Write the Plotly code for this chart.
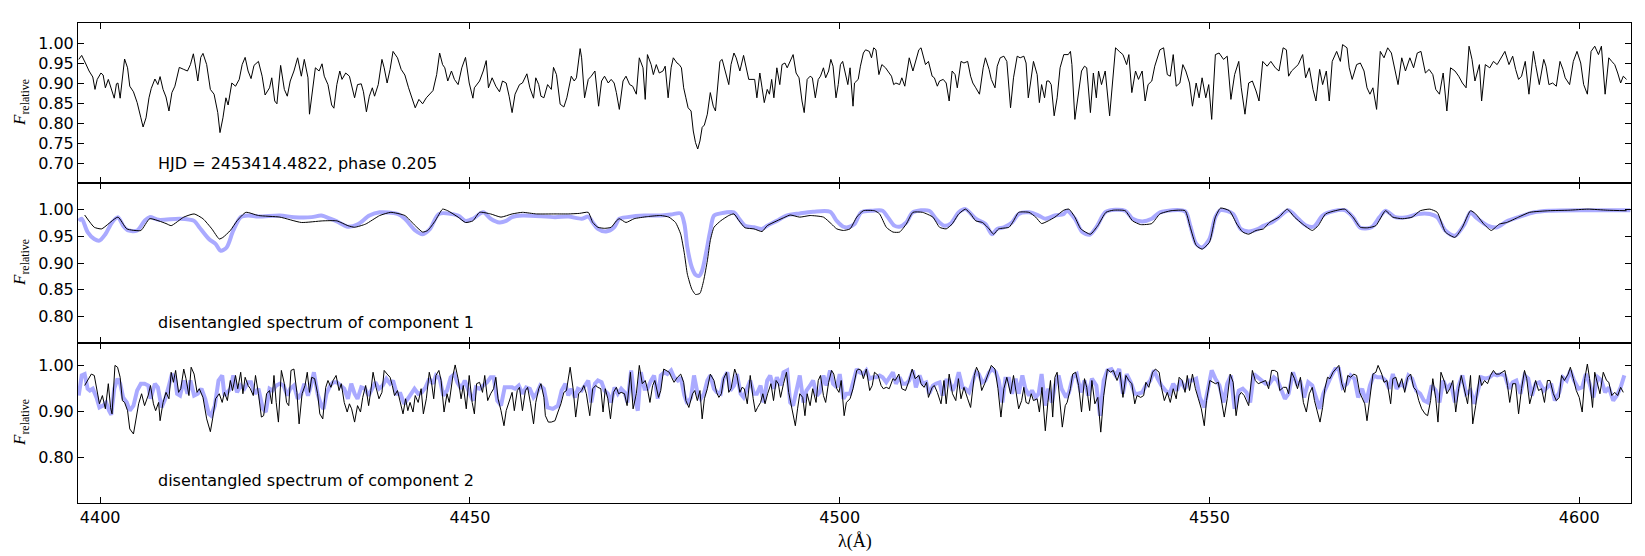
import plotly.graph_objects as go
from plotly.subplots import make_subplots

# ---------------- data (wavelength in Angstrom, relative flux) ----------------
obs = [(4397.1,0.959),(4397.5,0.969),(4398.0,0.950),(4398.5,0.930),(4399.0,0.915),(4399.3,0.884),(4399.6,0.909),(4400.1,0.925),(4400.4,0.920),(4400.7,0.888),(4401.1,0.909),(4401.5,0.884),(4401.9,0.862),(4402.2,0.898),(4402.4,0.900),(4402.7,0.862),(4403.1,0.930),(4403.3,0.960),(4403.7,0.938),(4404.0,0.892),(4404.5,0.878),(4405.0,0.851),(4405.5,0.813),(4405.8,0.790),(4406.2,0.813),(4406.6,0.863),(4406.9,0.886),(4407.4,0.910),(4407.8,0.896),(4408.1,0.916),(4408.5,0.884),(4408.9,0.865),(4409.3,0.830),(4409.7,0.876),(4410.1,0.892),(4410.4,0.913),(4410.7,0.939),(4411.3,0.934),(4411.8,0.930),(4412.2,0.946),(4412.6,0.973),(4413.0,0.930),(4413.2,0.905),(4413.6,0.964),(4413.9,0.974),(4414.4,0.946),(4414.9,0.884),(4415.4,0.872),(4415.9,0.826),(4416.2,0.776),(4416.6,0.813),(4417.0,0.863),(4417.3,0.845),(4417.8,0.900),(4418.3,0.892),(4418.8,0.909),(4419.2,0.946),(4419.6,0.964),(4420.0,0.930),(4420.4,0.911),(4420.8,0.944),(4421.4,0.954),(4421.9,0.917),(4422.3,0.870),(4422.9,0.888),(4423.2,0.913),(4423.6,0.855),(4423.9,0.848),(4424.4,0.944),(4424.9,0.884),(4425.3,0.867),(4425.7,0.905),(4426.2,0.930),(4426.7,0.963),(4427.2,0.917),(4427.6,0.959),(4428.1,0.913),(4428.3,0.822),(4428.7,0.888),(4429.1,0.938),(4429.6,0.930),(4430.0,0.948),(4430.3,0.917),(4430.8,0.896),(4431.3,0.845),(4431.6,0.837),(4432.0,0.896),(4432.4,0.930),(4432.7,0.909),(4433.2,0.925),(4433.7,0.917),(4434.1,0.888),(4434.4,0.863),(4434.8,0.896),(4435.3,0.898),(4435.6,0.878),(4436.0,0.828),(4436.4,0.867),(4436.8,0.888),(4437.1,0.867),(4437.6,0.896),(4438.1,0.959),(4438.4,0.938),(4438.8,0.900),(4439.2,0.934),(4439.6,0.979),(4440.2,0.963),(4440.7,0.934),(4441.2,0.920),(4441.7,0.888),(4442.2,0.863),(4442.6,0.838),(4443.1,0.859),(4443.6,0.848),(4444.1,0.863),(4444.6,0.873),(4445.0,0.881),(4445.5,0.921),(4445.9,0.975),(4446.3,0.946),(4446.6,0.938),(4447.0,0.905),(4447.5,0.930),(4447.9,0.909),(4448.4,0.896),(4448.9,0.938),(4449.4,0.964),(4449.9,0.900),(4450.4,0.862),(4450.6,0.888),(4450.9,0.896),(4451.3,0.905),(4451.8,0.930),(4452.2,0.956),(4452.5,0.888),(4453.0,0.913),(4453.5,0.892),(4454.0,0.878),(4454.4,0.905),(4454.9,0.900),(4455.3,0.867),(4455.7,0.826),(4456.1,0.872),(4456.7,0.896),(4457.1,0.900),(4457.7,0.923),(4458.1,0.888),(4458.6,0.862),(4458.9,0.913),(4459.3,0.896),(4459.6,0.867),(4460.0,0.863),(4460.5,0.896),(4461.0,0.884),(4461.3,0.939),(4461.7,0.921),(4462.2,0.847),(4462.7,0.840),(4463.1,0.863),
(4463.4,0.888),(4463.7,0.917),(4464.1,0.905),(4464.4,0.913),(4464.9,0.986),(4465.1,0.963),(4465.5,0.863),(4466.0,0.909),(4466.4,0.917),(4466.9,0.930),(4467.4,0.842),(4467.8,0.905),(4468.2,0.917),(4468.7,0.900),(4469.1,0.909),(4469.5,0.900),(4469.8,0.876),(4470.2,0.834),(4470.7,0.905),(4471.1,0.917),(4471.6,0.896),(4472.0,0.892),(4472.5,0.872),(4472.9,0.963),(4473.4,0.938),(4473.7,0.859),(4474.0,0.971),(4474.5,0.946),(4474.8,0.921),(4475.2,0.946),(4475.6,0.925),(4476.1,0.930),(4476.4,0.942),(4476.8,0.863),(4477.2,0.938),(4477.5,0.963),(4478.0,0.950),(4478.3,0.946),(4478.6,0.938),(4478.9,0.888),(4479.2,0.863),(4479.5,0.838),(4479.9,0.830),(4480.2,0.780),(4480.5,0.751),(4480.8,0.735),(4481.1,0.755),(4481.4,0.789),(4481.7,0.795),(4482.1,0.822),(4482.5,0.876),(4482.9,0.842),(4483.2,0.830),(4483.5,0.884),(4483.8,0.954),(4484.1,0.959),(4484.6,0.925),(4485.0,0.896),(4485.3,0.946),(4485.7,0.975),(4486.0,0.963),(4486.5,0.930),(4487.0,0.969),(4487.4,0.938),(4487.7,0.909),(4488.0,0.909),(4488.5,0.909),(4488.8,0.863),(4489.2,0.925),(4489.5,0.888),(4489.8,0.851),(4490.2,0.884),(4490.5,0.872),(4490.8,0.909),(4491.1,0.863),(4491.5,0.938),(4491.9,0.896),(4492.2,0.946),(4492.6,0.950),(4492.9,0.938),(4493.3,0.954),(4493.7,0.971),(4494.1,0.925),(4494.5,0.913),(4494.9,0.855),(4495.2,0.826),(4495.6,0.909),(4496.0,0.917),(4496.3,0.913),(4496.7,0.863),(4497.1,0.909),(4497.4,0.917),(4497.8,0.938),(4498.1,0.913),(4498.5,0.930),(4498.8,0.959),(4499.1,0.942),(4499.5,0.863),(4499.8,0.896),(4500.1,0.946),(4500.4,0.954),(4500.7,0.925),(4501.1,0.896),(4501.4,0.938),(4501.8,0.842),(4502.0,0.900),(4502.5,0.909),(4502.8,0.942),(4503.2,0.975),(4503.5,0.983),(4504.0,0.979),(4504.3,0.963),(4504.6,0.988),(4504.9,0.983),(4505.3,0.921),(4505.7,0.946),(4506.2,0.938),(4506.5,0.930),(4507.0,0.917),(4507.3,0.896),(4507.6,0.900),(4508.1,0.896),(4508.4,0.913),(4508.8,0.892),(4509.1,0.934),(4509.4,0.963),(4509.9,0.930),(4510.2,0.950),(4510.7,0.983),(4511.0,0.988),(4511.3,0.967),(4511.6,0.946),(4512.0,0.954),(4512.5,0.917),(4512.8,0.913),(4513.2,0.892),(4513.5,0.905),(4514.0,0.909),(4514.4,0.900),(4514.8,0.855),(4515.2,0.930),(4515.6,0.921),(4515.9,0.888),(4516.4,0.954),(4516.8,0.950),(4517.3,0.954),(4517.7,0.917),(4518.0,0.900),(4518.4,0.888),(4518.9,0.872),(4519.4,0.938),(4519.7,0.963),(4520.2,0.934),(4520.5,0.909),(4521.0,0.888),(4521.3,0.942),(4521.7,0.963),(4522.2,0.967),(4522.6,0.954),(4523.1,0.838),(4523.5,0.913),(4524.0,0.967),(4524.4,0.963),(4524.9,0.967),(4525.2,0.950),(4525.5,0.863),(4525.8,0.900),(4526.2,0.954),(4526.7,0.921),(4527.0,0.851),(4527.3,0.896),(4527.7,0.863),(4528.0,0.905),(4528.3,0.905),(4528.6,0.896),(4529.0,0.818),(4529.4,0.863),(4529.8,0.938),(4530.3,0.971),
(4530.9,0.971),(4531.2,0.979),(4531.4,0.946),(4531.8,0.809),(4532.3,0.880),(4532.7,0.930),(4533.1,0.942),(4533.4,0.938),(4533.9,0.826),(4534.3,0.925),(4534.7,0.863),(4535.0,0.930),(4535.4,0.896),(4535.9,0.930),(4536.5,0.818),(4536.9,0.896),(4537.3,0.988),(4537.8,0.979),(4538.3,0.971),(4538.8,0.946),(4539.1,0.971),(4539.5,0.876),(4540.0,0.930),(4540.4,0.909),(4540.9,0.930),(4541.3,0.855),(4541.7,0.896),(4542.2,0.905),(4542.6,0.942),(4543.3,0.983),(4543.8,0.988),(4544.3,0.921),(4544.7,0.917),(4545.1,0.971),(4545.5,0.892),(4546.0,0.900),(4546.4,0.946),(4546.8,0.930),(4547.3,0.900),(4547.7,0.842),(4548.2,0.900),(4548.6,0.863),(4549.0,0.913),(4549.5,0.863),(4549.9,0.896),(4550.3,0.809),(4550.8,0.971),(4551.3,0.975),(4551.9,0.959),(4552.4,0.967),(4552.9,0.859),(4553.4,0.921),(4553.96,0.954),(4554.3,0.888),(4554.8,0.822),(4555.3,0.900),(4555.8,0.905),(4556.3,0.880),(4556.7,0.855),(4557.2,0.954),(4557.8,0.942),(4558.3,0.954),(4558.9,0.938),(4559.4,0.930),(4559.96,0.988),(4560.4,0.983),(4560.7,0.917),(4561.1,0.930),(4561.5,0.938),(4562.0,0.946),(4562.6,0.971),(4563.0,0.913),(4563.5,0.938),(4564.0,0.884),(4564.4,0.855),(4564.9,0.934),(4565.3,0.896),(4565.8,0.930),(4566.2,0.855),(4566.6,0.954),(4567.2,0.979),(4567.7,0.954),(4568.0,0.996),(4568.6,0.988),(4568.9,0.938),(4569.3,0.909),(4569.9,0.946),(4570.4,0.950),(4570.9,0.930),(4571.3,0.888),(4571.7,0.872),(4572.1,0.888),(4572.6,0.834),(4573.1,0.979),(4573.6,0.963),(4574.1,0.988),(4574.6,0.975),(4575.0,0.938),(4575.5,0.896),(4576.0,0.963),(4576.5,0.930),(4577.1,0.963),(4577.6,0.938),(4578.1,0.975),(4578.6,0.979),(4579.2,0.925),(4579.7,0.934),(4580.2,0.921),(4580.6,0.884),(4581.1,0.872),(4581.6,0.925),(4582.1,0.830),(4582.6,0.938),(4583.2,0.930),(4583.7,0.917),(4584.2,0.900),(4584.7,0.888),(4585.1,0.992),(4585.5,0.959),(4585.9,0.905),(4586.5,0.946),(4586.8,0.855),(4587.3,0.946),(4587.9,0.938),(4588.4,0.954),(4588.9,0.946),(4589.4,0.963),(4589.95,0.979),(4590.5,0.946),(4591.0,0.967),(4591.4,0.934),(4591.8,0.909),(4592.2,0.917),(4592.7,0.954),(4593.2,0.872),(4593.8,0.979),(4594.1,0.946),(4594.6,0.896),(4595.2,0.959),(4595.5,0.942),(4595.9,0.896),(4596.4,0.900),(4596.9,0.892),(4597.4,0.954),(4597.8,0.934),(4598.1,0.913),(4598.7,0.896),(4599.2,0.954),(4599.7,0.979),(4600.2,0.950),(4600.6,0.896),(4601.1,0.872),(4601.6,0.979),(4602.1,0.992),(4602.6,0.971),(4603.0,0.992),(4603.5,0.872),(4604.0,0.963),(4604.4,0.954),(4604.8,0.946),(4605.2,0.925),(4605.6,0.900),(4605.96,0.917),(4606.4,0.909)]

comp1 = [(4397.9,0.990),(4399.2,0.967),(4400.2,0.964),(4402.4,0.986),(4403.6,0.964),(4405.5,0.961),(4406.7,0.983),(4408.9,0.974),(4409.6,0.970),(4411.3,0.986),(4412.7,0.992),(4413.9,0.983),(4415.1,0.964),(4416.1,0.945),(4416.6,0.948),(4417.6,0.961),(4418.5,0.979),(4419.7,0.995),(4421.4,0.989),(4424.3,0.986),(4427.2,0.976),(4430.1,0.979),(4432.0,0.979),(4433.5,0.970),(4434.4,0.967),(4435.9,0.973),(4437.8,0.989),(4439.3,0.995),(4441.2,0.989),(4442.6,0.970),(4443.6,0.958),(4444.3,0.961),(4445.3,0.979),(4446.3,1.001),(4447.0,0.998),(4448.4,0.986),(4449.4,0.976),(4450.4,0.979),(4451.3,0.995),(4452.8,0.992),(4454.2,0.986),(4455.7,0.992),(4457.1,0.995),(4459.0,0.992),(4461.5,0.992),
(4463.3,0.992),(4464.8,0.993),(4466.0,0.995),(4466.6,0.976),(4467.3,0.967),(4468.2,0.965),(4469.1,0.967),(4469.8,0.979),(4470.2,0.983),(4471.1,0.976),(4472.2,0.983),(4474.0,0.987),(4475.8,0.989),(4476.9,0.986),(4477.8,0.976),(4478.5,0.954),(4479.0,0.917),(4479.4,0.879),(4480.0,0.851),(4480.5,0.841),(4481.1,0.843),(4481.6,0.867),(4482.1,0.904),(4482.5,0.942),(4483.0,0.967),(4483.9,0.979),(4485.0,0.989),(4485.7,0.992),(4486.4,0.979),(4487.2,0.966),(4488.4,0.964),(4489.5,0.959),(4490.2,0.970),(4491.5,0.979),(4492.6,0.986),(4493.3,0.990),(4494.6,0.986),(4496.0,0.989),(4497.8,0.986),(4498.9,0.973),(4499.6,0.964),(4500.5,0.961),(4501.4,0.964),(4502.3,0.986),(4503.2,0.998),(4504.7,0.998),(4505.4,0.992),(4506.3,0.967),(4507.2,0.958),(4508.1,0.958),(4509.0,0.973),(4509.9,0.995),(4511.2,0.995),(4512.6,0.986),(4513.5,0.967),(4514.4,0.964),(4515.2,0.973),(4516.1,0.992),(4517.0,1.001),(4517.7,0.992),(4518.4,0.979),(4519.3,0.976),(4520.2,0.964),(4520.8,0.954),(4521.5,0.964),(4522.9,0.967),(4523.5,0.979),(4524.2,0.995),(4525.6,0.995),(4526.5,0.986),(4527.3,0.974),(4528.2,0.979),(4529.1,0.986),(4530.3,0.999),
(4531.0,1.001),(4531.8,0.986),(4532.6,0.964),(4533.9,0.954),(4534.9,0.970),(4536.0,0.995),(4537.0,0.999),(4538.6,0.998),(4539.6,0.979),(4540.7,0.972),(4542.2,0.974),(4543.3,0.992),(4544.8,0.998),(4546.7,0.998),(4547.4,0.967),(4548.2,0.933),(4549.0,0.926),(4550.0,0.939),(4550.8,0.986),(4551.5,1.003),(4552.7,0.998),(4553.7,0.973),(4554.5,0.958),(4555.3,0.954),(4556.3,0.961),(4557.3,0.964),(4558.1,0.976),(4559.4,0.986),(4560.5,1.001),(4561.5,0.986),(4562.6,0.973),(4563.9,0.961),(4564.7,0.970),(4565.7,0.992),(4567.0,0.998),(4568.3,1.001),(4569.4,0.986),(4570.4,0.967),(4571.4,0.966),(4572.5,0.970),(4573.8,0.998),(4574.8,0.986),(4576.1,0.983),(4577.4,0.986),(4578.5,0.998),(4579.8,1.001),(4580.8,0.995),(4581.9,0.958),(4583.2,0.948),(4584.2,0.967),(4585.3,0.998),(4586.0,0.992),(4587.1,0.973),(4588.1,0.961),(4589.2,0.973),(4590.2,0.976),(4591.8,0.986),(4593.3,0.995),(4595.9,0.998),(4598.6,0.999),(4601.2,1.001),(4603.8,0.999),(4606.4,0.998)]

comp1_model = [(4397.1,0.979),(4397.5,0.983),(4398.3,0.958),(4399.2,0.945),(4399.9,0.942),(4400.7,0.954),(4401.6,0.976),(4402.4,0.986),(4403.1,0.970),(4403.8,0.961),(4405.0,0.961),(4406.0,0.979),(4406.7,0.986),(4407.9,0.981),(4410.8,0.983),(4412.7,0.979),(4413.4,0.967),(4414.7,0.945),(4415.6,0.936),(4416.3,0.923),(4417.1,0.929),(4418.0,0.961),(4419.0,0.986),(4420.0,0.989),(4421.4,0.987),(4424.3,0.989),(4426.2,0.986),(4428.6,0.986),(4429.9,0.989),(4431.1,0.983),(4432.0,0.978),(4433.5,0.968),(4434.9,0.973),(4436.4,0.989),(4437.8,0.995),(4440.2,0.992),(4441.2,0.983),(4442.6,0.961),(4443.6,0.954),(4444.6,0.964),(4445.8,0.992),(4448.4,0.989),(4449.4,0.979),(4450.4,0.983),(4451.8,0.995),(4452.8,0.983),(4454.0,0.976),(4454.9,0.979),(4455.7,0.986),(4457.1,0.989),(4461.5,0.986),
(4463.3,0.987),(4465.1,0.983),(4466.0,0.987),(4466.6,0.976),(4467.3,0.964),(4468.4,0.959),(4469.5,0.967),(4470.2,0.983),(4471.3,0.986),(4473.6,0.989),(4475.8,0.989),(4477.2,0.991),(4478.5,0.993),(4479.0,0.973),(4479.4,0.929),(4480.0,0.892),(4480.5,0.878),(4481.0,0.876),(4481.4,0.886),(4481.9,0.917),(4482.5,0.961),(4483.0,0.989),(4483.9,0.993),(4485.7,0.995),(4486.4,0.983),(4487.2,0.970),(4488.4,0.967),(4489.5,0.964),(4490.2,0.970),(4491.5,0.979),(4492.8,0.989),(4494.6,0.993),(4496.4,0.996),(4498.7,0.996),(4499.6,0.979),(4500.5,0.968),(4501.1,0.967),(4502.0,0.973),(4502.9,0.995),(4504.5,0.998),(4505.8,0.998),(4506.5,0.986),(4507.4,0.970),(4508.1,0.968),(4509.0,0.976),(4509.9,0.995),(4512.1,0.998),(4513.0,0.983),(4514.1,0.970),(4515.0,0.974),(4516.1,0.995),(4517.0,1.001),(4518.4,0.983),(4519.7,0.973),(4520.6,0.954),(4521.3,0.964),(4522.2,0.967),(4523.3,0.976),(4524.2,0.992),(4525.6,0.995),(4526.9,0.989),(4527.8,0.983),(4529.1,0.989),(4530.3,0.992),
(4530.7,0.998),(4531.8,0.983),(4532.8,0.958),(4533.8,0.953),(4534.7,0.967),(4536.0,0.996),(4538.6,0.998),(4539.6,0.983),(4540.9,0.978),(4542.2,0.983),(4543.3,0.995),(4546.7,0.997),(4547.4,0.970),(4548.2,0.936),(4549.0,0.929),(4550.0,0.945),(4550.8,0.986),(4551.5,0.999),(4553.2,0.992),(4554.2,0.964),(4555.3,0.959),(4556.6,0.964),(4557.3,0.970),(4558.4,0.976),(4559.4,0.986),(4560.7,0.999),(4562.0,0.983),(4563.1,0.970),(4564.1,0.968),(4565.3,0.989),(4566.7,0.997),(4568.3,0.999),(4569.4,0.986),(4570.4,0.966),(4571.9,0.967),(4573.0,0.986),(4573.8,0.998),(4575.1,0.986),(4576.7,0.986),(4578.2,0.992),(4579.8,0.992),(4580.8,0.986),(4581.9,0.961),(4583.2,0.951),(4584.5,0.973),(4585.3,0.995),(4586.0,0.986),(4587.6,0.970),(4588.9,0.967),(4590.2,0.978),(4591.8,0.986),(4593.9,0.995),(4595.9,0.998),(4601.2,0.999),(4606.9,0.999)]

comp2 = [(4397.9,0.957),(4398.8,0.982),(4399.2,0.979),(4399.9,0.917),(4400.3,0.935),(4400.7,0.906),(4401.1,0.961),(4401.4,0.909),(4401.6,0.895),(4402.0,1.001),(4402.35,0.997),(4402.7,0.975),(4403.0,0.924),(4403.3,0.920),(4403.7,0.902),(4404.0,0.862),(4404.5,0.851),(4404.9,0.884),(4405.2,0.917),(4405.6,0.939),(4406.0,0.913),(4406.5,0.936),(4406.8,0.957),(4407.2,0.917),(4407.5,0.902),(4407.9,0.920),(4408.1,0.880),(4408.5,0.920),(4408.9,0.942),(4409.3,0.928),(4409.6,0.986),(4409.9,0.964),(4410.2,0.990),(4410.6,0.942),(4410.9,0.950),(4411.3,0.993),(4411.6,0.972),(4412.0,0.935),(4412.3,0.997),(4412.7,0.982),(4413.1,0.942),(4413.4,0.950),(4413.9,0.931),(4414.4,0.884),(4414.9,0.856),(4415.2,0.884),(4415.6,0.928),(4416.1,0.939),(4416.5,0.920),(4416.8,0.942),(4417.2,0.924),(4417.6,0.968),(4417.9,0.946),(4418.3,0.979),(4418.6,0.950),(4419.0,0.986),(4419.3,0.939),(4419.6,0.975),(4420.0,0.957),(4420.3,0.950),(4420.7,0.935),(4421.0,0.979),(4421.4,0.939),(4421.8,0.888),(4422.1,0.891),(4422.5,0.939),(4422.9,0.946),(4423.2,0.917),(4423.5,0.979),(4423.8,0.920),(4424.1,0.877),(4424.5,0.990),(4424.9,0.961),(4425.2,0.920),(4425.5,0.913),(4425.8,0.990),(4426.2,0.993),(4426.6,0.942),(4426.9,0.873),(4427.3,0.939),(4427.7,0.957),(4428.0,0.986),(4428.3,0.942),(4428.6,0.975),(4429.0,0.972),(4429.4,0.939),(4429.7,0.895),(4430.1,0.884),(4430.5,0.953),(4430.8,0.968),(4431.2,0.953),(4431.5,0.968),(4431.9,0.979),(4432.3,0.946),(4432.6,0.961),(4433.0,0.920),(4433.4,0.899),(4433.7,0.917),(4434.0,0.906),(4434.4,0.877),(4434.8,0.913),(4435.2,0.899),(4435.5,0.931),(4435.9,0.957),(4436.3,0.913),(4436.6,0.946),(4436.9,0.986),(4437.3,0.953),(4437.7,0.928),(4438.1,0.942),(4438.4,0.990),(4438.8,0.982),(4439.2,0.975),(4439.5,0.957),(4439.8,0.935),(4440.2,0.946),(4440.6,0.920),(4440.95,0.895),(4441.3,0.928),(4441.6,0.902),(4441.9,0.920),(4442.3,0.899),(4442.6,0.935),(4443.0,0.920),(4443.4,0.950),(4443.7,0.895),(4444.1,0.928),(4444.5,0.986),(4444.8,0.964),(4445.1,0.928),(4445.4,0.979),(4445.8,0.990),(4446.1,0.968),(4446.5,0.899),(4446.9,0.939),(4447.2,0.920),(4447.7,0.979),(4448.0,1.002),(4448.4,0.972),(4448.8,0.928),(4449.1,0.957),(4449.5,0.906),(4449.9,0.979),(4450.3,0.920),(4450.6,0.895),(4450.9,0.961),(4451.3,0.964),(4451.7,0.942),(4452.0,0.979),(4452.4,0.924),(4452.8,0.939),(4453.2,0.950),(4453.5,0.975),(4453.8,0.928),(4454.2,0.902),(4454.6,0.869),(4454.9,0.902),(4455.3,0.920),(4455.7,0.942),(4456.0,0.902),(4456.4,0.946),(4456.7,0.953),(4457.1,0.902),(4457.5,0.946),(4457.8,0.953),(4458.2,0.917),(4458.6,0.873),(4458.9,0.920),(4459.3,0.950),(4459.6,0.961),(4460.0,0.931),(4460.2,0.891),(4460.6,0.877),(4461.0,0.877),(4461.5,0.880),(4461.9,0.899),(4462.3,0.917),(4462.7,0.942),
(4463.05,0.946),(4463.55,0.997),(4463.95,0.950),(4464.3,0.888),(4464.7,0.939),(4465.1,0.946),(4465.4,0.957),(4465.74,0.939),(4466.2,0.891),(4466.6,0.950),(4467.0,0.957),(4467.3,0.953),(4467.7,0.950),(4468.0,0.899),(4468.3,0.950),(4468.65,0.928),(4469.0,0.884),(4469.4,0.942),(4469.8,0.953),(4470.1,0.939),(4470.45,0.942),(4470.9,0.939),(4471.25,0.913),(4471.7,0.986),(4472.06,0.906),(4472.5,0.939),(4472.9,1.001),(4473.3,0.961),(4473.7,0.968),(4474.0,0.950),(4474.34,0.920),(4474.7,0.957),(4475.0,0.968),(4475.5,0.931),(4475.8,0.946),(4476.2,0.993),(4476.5,0.990),(4476.95,0.986),(4477.26,0.975),(4477.6,0.964),(4478.06,0.975),(4478.5,0.982),(4478.9,0.964),(4479.2,0.924),(4479.6,0.909),(4480.1,0.939),(4480.4,0.946),(4480.75,0.924),(4481.1,0.946),(4481.4,0.884),(4481.7,0.928),(4482.1,0.950),(4482.5,0.982),(4483.0,0.968),(4483.35,0.942),(4483.66,0.931),(4484.0,0.939),(4484.3,0.972),(4484.7,0.986),(4485.0,0.942),(4485.3,0.950),(4485.8,0.993),(4486.1,0.979),(4486.5,0.942),(4486.8,0.953),(4487.1,0.950),(4487.5,0.917),(4487.9,0.979),(4488.3,0.928),(4488.6,0.899),(4488.9,0.909),(4489.3,0.920),(4489.6,0.939),(4489.9,0.917),(4490.25,0.939),(4490.7,0.961),(4491.05,0.924),(4491.4,0.968),(4491.7,0.961),(4492.0,0.931),(4492.4,0.961),(4492.8,0.986),(4493.1,0.942),(4493.5,0.909),(4494.0,0.869),(4494.3,0.906),(4494.6,0.939),(4495.0,0.931),(4495.3,0.891),(4495.6,0.939),(4496.0,0.913),(4496.35,0.950),(4496.8,0.920),(4497.1,0.968),(4497.4,0.979),(4497.8,0.935),(4498.1,0.920),(4498.5,0.964),(4498.9,0.990),(4499.2,0.982),(4499.6,0.950),(4499.9,0.942),(4500.2,0.968),(4500.6,0.891),(4500.9,0.920),(4501.4,0.928),(4501.8,0.950),(4502.3,0.990),(4502.6,0.993),(4502.9,0.990),(4503.2,0.972),(4503.6,0.993),(4504.05,0.946),(4504.4,0.957),(4504.7,0.986),(4505.2,0.979),(4505.6,0.957),(4505.9,0.950),(4506.3,0.953),(4506.7,0.950),(4507.2,0.972),(4507.5,0.968),(4508.0,0.982),(4508.4,0.950),(4508.9,0.946),(4509.3,0.964),(4509.8,0.993),(4510.2,0.972),(4510.7,0.979),(4511.0,0.961),(4511.4,0.953),(4511.75,0.964),(4512.0,0.931),(4512.5,0.953),(4512.8,0.957),(4513.2,0.942),(4513.7,0.917),(4514.1,0.968),(4514.4,0.917),(4514.8,0.982),(4515.25,0.939),(4515.7,0.924),(4516.05,0.972),(4516.4,0.928),(4516.8,0.953),(4517.3,0.928),(4517.7,0.909),(4518.2,0.979),(4518.5,0.997),(4518.8,0.986),(4519.2,0.946),(4519.6,0.961),(4520.1,0.986),(4520.5,1.001),(4521.0,0.993),(4521.4,0.950),(4521.8,0.888),(4522.2,0.950),(4522.6,0.975),(4523.1,0.939),(4523.5,0.979),(4523.8,0.950),(4524.2,0.906),(4524.6,0.924),(4524.9,0.953),(4525.2,0.920),(4525.55,0.917),(4525.9,0.939),(4526.2,0.924),(4526.7,0.928),(4527.0,0.899),(4527.35,0.953),(4527.8,0.858),(4528.15,0.920),(4528.5,0.968),(4528.8,0.888),(4529.1,0.975),(4529.4,0.986),(4529.8,0.920),(4530.1,0.866),(4530.5,0.913),
(4530.75,0.920),(4531.2,0.950),(4531.5,0.982),(4531.9,0.986),(4532.3,0.957),(4532.7,0.899),(4533.1,0.972),(4533.4,0.953),(4533.8,0.902),(4534.1,0.968),(4534.5,0.917),(4534.9,0.931),(4535.3,0.855),(4535.7,0.935),(4536.2,0.993),(4536.6,0.986),(4537.0,0.990),(4537.5,0.968),(4537.9,0.986),(4538.3,0.931),(4538.7,0.979),(4539.1,0.968),(4539.5,0.961),(4539.9,0.917),(4540.2,0.935),(4540.7,0.931),(4541.1,0.935),(4541.4,0.964),(4541.8,0.953),(4542.3,0.986),(4542.7,0.993),(4543.2,0.986),(4543.5,0.953),(4543.9,0.924),(4544.3,0.942),(4544.7,0.920),(4545.1,0.950),(4545.5,0.928),(4545.9,0.975),(4546.3,0.968),(4546.7,0.942),(4547.0,0.979),(4547.3,0.946),(4547.7,0.982),(4548.1,0.950),(4548.5,0.928),(4548.9,0.906),(4549.3,0.869),(4549.6,0.924),(4550.05,0.968),(4550.5,0.964),(4550.8,0.961),(4551.2,0.964),(4551.6,0.928),(4552.0,0.888),(4552.4,0.928),(4552.8,0.982),(4553.2,0.964),(4553.6,0.891),(4554.0,0.935),(4554.3,0.942),(4554.7,0.935),(4555.3,0.913),(4555.8,0.990),(4556.2,0.968),(4556.6,0.961),(4557.1,0.964),(4557.6,0.968),(4558.0,0.950),(4558.4,0.990),(4558.8,0.990),(4559.2,0.986),(4559.5,0.946),(4560.0,0.953),(4560.4,0.953),(4560.7,0.939),(4561.1,0.986),(4561.5,0.972),(4561.9,0.950),(4562.3,0.975),(4562.7,0.920),(4563.1,0.899),(4563.5,0.939),(4563.9,0.953),(4564.2,0.924),(4564.65,0.895),(4564.95,0.877),(4565.3,0.909),(4565.6,0.950),(4565.96,0.975),(4566.3,0.972),(4566.7,0.986),(4567.2,0.997),(4567.5,1.001),(4567.9,0.961),(4568.3,0.942),(4568.7,0.979),(4569.1,0.975),(4569.5,0.982),(4569.9,0.979),(4570.3,0.942),(4570.65,0.928),(4571.0,0.917),(4571.3,0.880),(4571.7,0.935),(4572.1,0.982),(4572.5,0.986),(4572.8,1.001),(4573.3,0.982),(4573.6,0.964),(4574.0,0.968),(4574.5,0.917),(4574.8,0.972),(4575.2,0.975),(4575.6,0.953),(4576.0,0.972),(4576.4,0.942),(4576.8,0.975),(4577.2,0.982),(4577.6,0.953),(4577.96,0.946),(4578.3,0.924),(4578.7,0.906),(4579.15,0.895),(4579.5,0.891),(4579.9,0.924),(4580.2,0.972),(4580.6,0.928),(4580.9,0.877),(4581.3,0.986),(4581.8,0.964),(4582.1,0.939),(4582.5,0.950),(4582.9,0.968),(4583.3,0.899),(4583.7,0.950),(4584.05,0.979),(4584.5,0.946),(4584.9,0.917),(4585.3,0.979),(4585.6,0.873),(4586.0,0.913),(4586.5,0.979),(4586.8,0.957),(4587.2,0.968),(4587.6,0.961),(4588.0,0.979),(4588.4,0.990),(4588.75,0.982),(4589.2,0.982),(4589.6,0.986),(4589.95,0.990),(4590.3,0.957),(4590.6,0.920),(4591.0,0.961),(4591.4,0.961),(4591.8,0.895),(4592.2,0.950),(4592.6,0.990),(4592.9,0.972),(4593.3,0.917),(4593.8,0.946),(4594.1,0.968),(4594.5,0.946),(4594.9,0.950),(4595.3,0.920),(4595.7,0.968),(4596.05,0.968),(4596.5,0.939),(4596.9,0.924),(4597.3,0.931),(4597.6,0.979),(4598.0,0.968),(4598.5,0.982),(4598.8,0.997),(4599.2,0.972),(4599.6,0.946),(4600.0,0.931),(4600.4,0.899),(4600.75,0.972),(4601.1,1.004),(4601.4,0.972),(4601.8,0.909),(4602.1,0.986),(4602.5,0.957),(4602.8,0.939),(4603.25,0.986),(4603.7,0.968),(4604.0,0.964),(4604.4,0.935),(4604.8,0.942),(4605.2,0.935),(4605.6,0.953),(4605.96,0.942)]

comp2_model = [(4397.1,0.935),(4397.5,0.979),(4397.9,0.982),(4398.3,0.950),(4398.6,0.946),(4399.0,0.950),(4399.5,0.931),(4399.9,0.909),(4400.4,0.913),(4400.8,0.920),(4401.2,0.902),(4401.5,0.893),(4401.9,0.950),(4402.35,0.972),(4402.7,0.961),(4403.1,0.931),(4403.6,0.920),(4404.0,0.902),(4404.5,0.913),(4405.0,0.946),(4405.5,0.961),(4406.0,0.961),(4406.5,0.957),(4406.8,0.928),(4407.4,0.961),(4407.8,0.953),(4408.3,0.909),(4408.8,0.928),(4409.3,0.957),(4409.7,0.982),(4410.1,0.975),(4410.4,0.939),(4410.8,0.935),(4411.3,0.968),(4411.8,0.939),(4412.2,0.968),(4412.7,0.935),(4413.2,0.939),(4413.7,0.950),(4414.2,0.928),(4414.7,0.895),(4415.0,0.891),(4415.5,0.913),(4416.0,0.968),(4416.5,0.979),(4416.8,0.935),(4417.2,0.942),(4417.6,0.950),(4418.0,0.979),(4418.5,0.942),(4419.0,0.957),(4419.5,0.950),(4420.0,0.964),(4420.4,0.964),(4420.9,0.939),(4421.4,0.950),(4422.0,0.906),(4422.4,0.899),(4422.9,0.950),(4423.3,0.946),(4423.8,0.957),(4424.3,0.961),(4424.8,0.957),(4425.3,0.935),(4425.7,0.950),(4426.2,0.957),(4426.7,0.928),(4427.2,0.939),(4427.6,0.961),(4428.1,0.935),(4428.5,0.957),(4428.9,0.986),(4429.4,0.939),(4429.9,0.913),(4430.2,0.906),(4430.6,0.939),(4431.1,0.957),(4431.5,0.964),(4432.0,0.964),(4432.5,0.957),(4433.0,0.950),(4433.5,0.928),(4433.95,0.961),(4434.4,0.939),(4434.8,0.928),(4435.3,0.953),(4435.8,0.950),(4436.3,0.935),(4436.8,0.950),(4437.2,0.964),(4437.7,0.950),(4438.2,0.957),(4438.7,0.972),(4439.2,0.961),(4439.6,0.968),(4440.1,0.939),(4440.6,0.939),(4441.1,0.917),(4441.6,0.928),(4442.1,0.939),(4442.5,0.950),(4443.0,0.939),(4443.5,0.942),(4444.0,0.953),(4444.5,0.972),(4445.0,0.961),(4445.4,0.979),(4445.9,0.972),(4446.4,0.935),(4446.9,0.946),(4447.4,0.975),(4447.9,0.982),(4448.3,0.964),(4448.8,0.950),(4449.3,0.968),(4449.9,0.942),(4450.4,0.924),(4450.8,0.953),(4451.3,0.950),(4451.8,0.957),(4452.3,0.964),(4452.8,0.975),(4453.2,0.975),(4453.7,0.924),(4454.2,0.913),(4454.7,0.953),(4455.2,0.953),(4455.7,0.953),(4456.1,0.950),(4456.6,0.957),(4457.1,0.939),(4457.6,0.953),(4458.1,0.950),(4458.6,0.931),(4459.0,0.939),(4459.5,0.957),(4460.0,0.950),(4460.5,0.909),(4461.2,0.906),(4461.9,0.913),(4462.4,0.946),(4462.9,0.961),
(4463.3,0.935),(4463.7,0.950),(4464.2,0.931),(4464.6,0.950),(4465.1,0.946),(4465.5,0.957),(4466.0,0.968),(4466.4,0.920),(4466.9,0.961),(4467.3,0.968),(4467.8,0.964),(4468.2,0.946),(4468.65,0.939),(4469.1,0.920),(4469.55,0.953),(4470.0,0.939),(4470.45,0.950),(4470.9,0.942),(4471.3,0.920),(4471.8,0.990),(4472.2,0.935),(4472.7,0.902),(4473.1,0.986),(4473.6,0.950),(4474.0,0.950),(4474.5,0.968),(4474.9,0.979),(4475.4,0.928),(4475.8,0.979),(4476.3,0.986),(4476.7,0.982),(4477.2,0.990),(4477.6,0.975),(4478.1,0.968),(4478.5,0.975),(4479.0,0.935),(4479.4,0.917),(4479.9,0.931),(4480.3,0.979),(4480.75,0.942),(4481.2,0.928),(4481.65,0.939),(4482.1,0.968),(4482.5,0.979),(4483.0,0.950),(4483.4,0.942),(4483.9,0.939),(4484.3,0.972),(4484.8,0.986),(4485.2,0.946),(4485.7,0.957),(4486.1,0.982),(4486.6,0.939),(4487.0,0.931),(4487.5,0.953),(4487.9,0.968),(4488.4,0.939),(4488.8,0.939),(4489.3,0.957),(4489.7,0.920),(4490.2,0.968),(4490.6,0.979),(4491.1,0.950),(4491.5,0.975),(4492.0,0.957),(4492.4,0.986),(4492.9,0.990),(4493.3,0.920),(4493.7,0.913),(4494.2,0.953),(4494.6,0.979),(4495.1,0.920),(4495.5,0.946),(4496.0,0.957),(4496.4,0.968),(4496.9,0.935),(4497.3,0.942),(4497.8,0.979),(4498.2,0.957),(4498.7,0.990),(4499.1,0.961),(4499.6,0.953),(4500.0,0.982),(4500.5,0.928),(4500.9,0.939),(4501.4,0.939),(4501.8,0.961),(4502.3,0.993),(4502.7,0.986),(4503.2,0.982),(4503.6,0.990),(4504.05,0.972),(4504.5,0.975),(4504.95,0.975),(4505.4,0.979),(4505.8,0.975),(4506.3,0.964),(4506.7,0.975),(4507.2,0.986),(4507.6,0.961),(4508.1,0.975),(4508.5,0.961),(4509.0,0.961),(4509.4,0.968),(4509.9,0.990),(4510.3,0.953),(4510.8,0.979),(4511.2,0.961),(4511.7,0.964),(4512.1,0.939),(4512.6,0.957),(4513.0,0.961),(4513.5,0.964),(4513.9,0.935),(4514.4,0.968),(4514.8,0.968),(4515.25,0.946),(4515.7,0.961),(4516.1,0.986),(4516.6,0.953),(4517.0,0.950),(4517.5,0.942),(4517.9,0.964),(4518.4,0.986),(4518.8,0.982),(4519.3,0.964),(4519.7,0.968),(4520.2,0.986),(4520.6,0.993),(4521.1,0.986),(4521.5,0.968),(4522.0,0.920),(4522.4,0.972),(4522.9,0.972),(4523.3,0.939),(4523.8,0.972),(4524.2,0.939),(4524.7,0.979),(4525.1,0.950),(4525.6,0.935),(4526.0,0.946),(4526.5,0.931),(4526.9,0.939),(4527.3,0.982),(4527.8,0.913),(4528.2,0.950),(4528.7,0.920),(4529.1,0.957),(4529.6,0.979),(4530.0,0.950),
(4530.6,0.931),(4531.0,0.942),(4531.5,0.975),(4532.05,0.982),(4532.6,0.942),(4533.1,0.968),(4533.6,0.935),(4534.1,0.972),(4534.7,0.957),(4535.2,0.891),(4535.7,0.968),(4536.2,0.990),(4536.75,0.993),(4537.3,0.979),(4537.8,0.993),(4538.3,0.939),(4538.8,0.982),(4539.35,0.964),(4539.9,0.939),(4540.4,0.939),(4540.9,0.942),(4541.4,0.957),(4542.0,0.968),(4542.5,0.990),(4543.0,0.972),(4543.5,0.957),(4544.05,0.946),(4544.6,0.939),(4545.1,0.961),(4545.6,0.946),(4546.1,0.968),(4546.7,0.950),(4547.2,0.968),(4547.7,0.968),(4548.2,0.972),(4548.7,0.931),(4549.3,0.909),(4549.8,0.950),(4550.3,0.990),(4550.8,0.972),(4551.35,0.957),(4551.9,0.920),(4552.4,0.961),(4552.9,0.979),(4553.4,0.906),(4553.96,0.946),(4554.5,0.950),(4555.0,0.942),(4555.5,0.920),(4556.0,0.982),(4556.6,0.975),(4557.1,0.968),(4557.6,0.961),(4558.1,0.961),(4558.7,0.975),(4559.2,0.968),(4559.7,0.950),(4560.2,0.928),(4560.7,0.939),(4561.3,0.986),(4561.8,0.961),(4562.3,0.964),(4562.8,0.931),(4563.35,0.964),(4563.9,0.957),(4564.4,0.928),(4564.9,0.906),(4565.4,0.939),(4565.96,0.961),(4566.5,0.979),(4567.0,0.993),(4567.5,0.993),(4568.0,0.953),(4568.6,0.961),(4569.1,0.979),(4569.6,0.972),(4570.1,0.931),(4570.65,0.950),(4571.2,0.920),(4571.7,0.957),(4572.2,0.979),(4572.7,0.975),(4573.3,0.975),(4573.8,0.968),(4574.3,0.950),(4574.8,0.982),(4575.3,0.950),(4575.9,0.961),(4576.4,0.953),(4576.9,0.979),(4577.4,0.972),(4577.96,0.946),(4578.5,0.939),(4579.0,0.924),(4579.5,0.920),(4580.05,0.957),(4580.6,0.946),(4581.1,0.920),(4581.6,0.968),(4582.1,0.950),(4582.65,0.961),(4583.2,0.920),(4583.7,0.957),(4584.2,0.979),(4584.7,0.939),(4585.3,0.946),(4585.8,0.917),(4586.3,0.950),(4586.8,0.975),(4587.3,0.972),(4587.9,0.975),(4588.4,0.982),(4588.9,0.979),(4589.4,0.982),(4589.95,0.979),(4590.5,0.950),(4591.0,0.964),(4591.5,0.968),(4592.05,0.939),(4592.6,0.979),(4593.1,0.972),(4593.6,0.935),(4594.1,0.961),(4594.6,0.964),(4595.2,0.946),(4595.7,0.953),(4596.2,0.961),(4596.7,0.924),(4597.3,0.942),(4597.8,0.975),(4598.3,0.968),(4598.8,0.990),(4599.3,0.968),(4599.9,0.950),(4600.4,0.953),(4600.9,0.982),(4601.4,0.961),(4601.9,0.931),(4602.5,0.975),(4603.0,0.968),(4603.5,0.942),(4604.0,0.953),(4604.6,0.924),(4605.1,0.935),(4605.6,0.953),(4606.1,0.979)]

x_ticks = [4400, 4450, 4500, 4550, 4600]
y_ticks_top = [0.70, 0.75, 0.80, 0.85, 0.90, 0.95, 1.00]
y_ticks_mid = [0.80, 0.85, 0.90, 0.95, 1.00]
y_ticks_bot = [0.80, 0.90, 1.00]
panel_labels = ["HJD = 2453414.4822, phase 0.205",
                "disentangled spectrum of component 1",
                "disentangled spectrum of component 2"]
# ------------------------------------------------------------------------------

def split(pairs):
    return [p[0] for p in pairs], [p[1] for p in pairs]

BLUE = "#aaaaff"
fig = make_subplots(rows=3, cols=1, shared_xaxes=True, vertical_spacing=0)

x, y = split(obs)
fig.add_trace(go.Scatter(x=x, y=y, mode="lines", line=dict(color="black", width=1)), row=1, col=1)

x, y = split(comp1_model)
fig.add_trace(go.Scatter(x=x, y=y, mode="lines", line=dict(color=BLUE, width=4, shape="spline", smoothing=0.8)), row=2, col=1)
x, y = split(comp1)
fig.add_trace(go.Scatter(x=x, y=y, mode="lines", line=dict(color="black", width=1, shape="spline", smoothing=0.5)), row=2, col=1)

x, y = split(comp2_model)
fig.add_trace(go.Scatter(x=x, y=y, mode="lines", line=dict(color=BLUE, width=4)), row=3, col=1)
x, y = split(comp2)
fig.add_trace(go.Scatter(x=x, y=y, mode="lines", line=dict(color="black", width=1)), row=3, col=1)

tickfont = dict(family="DejaVu Sans", size=16, color="black")
axis_common = dict(showline=True, linecolor="black", linewidth=1, mirror="allticks",
                   ticks="inside", ticklen=6, tickwidth=1, tickcolor="black",
                   showgrid=False, zeroline=False, tickfont=tickfont)

for r in (1, 2, 3):
    fig.update_xaxes(range=[4397, 4607], tickvals=x_ticks, ticktext=[str(v) for v in x_ticks],
                     showticklabels=(r == 3), row=r, col=1, **axis_common)

yranges = [(0.65, 1.05), (0.75, 1.05), (0.70, 1.05)]
yticks = [y_ticks_top, y_ticks_mid, y_ticks_bot]
for r in (1, 2, 3):
    fig.update_yaxes(range=list(yranges[r - 1]), tickvals=yticks[r - 1],
                     ticktext=["%.2f" % v for v in yticks[r - 1]], row=r, col=1, **axis_common)

annotations = []
label_y = [0.70, 0.789, 0.75]
for i, (txt, ly) in enumerate(zip(panel_labels, label_y)):
    sfx = "" if i == 0 else str(i + 1)
    annotations.append(dict(text=txt, x=4407.5, y=ly, xref="x" + sfx, yref="y" + sfx,
                            xanchor="left", yanchor="middle", showarrow=False,
                            font=dict(family="DejaVu Sans", size=16, color="black")))
    dom_center = [5 / 6, 1 / 2, 1 / 6][i]
    annotations.append(dict(text="<i>F</i><sub>relative</sub>", x=0, y=dom_center,
                            xref="paper", yref="paper", xshift=-57, textangle=-90,
                            xanchor="center", yanchor="middle", showarrow=False,
                            font=dict(family="Liberation Serif", size=17, color="black")))
annotations.append(dict(text="λ(Å)", x=0.5, y=0, xref="paper", yref="paper", yshift=-38,
                        xanchor="center", yanchor="middle", showarrow=False,
                        font=dict(family="Liberation Serif", size=18, color="black")))

fig.update_layout(width=1645, height=556, margin=dict(l=70, r=22, t=15, b=61),
                  paper_bgcolor="white", plot_bgcolor="white", showlegend=False,
                  annotations=annotations)

fig.write_html("out.html")
